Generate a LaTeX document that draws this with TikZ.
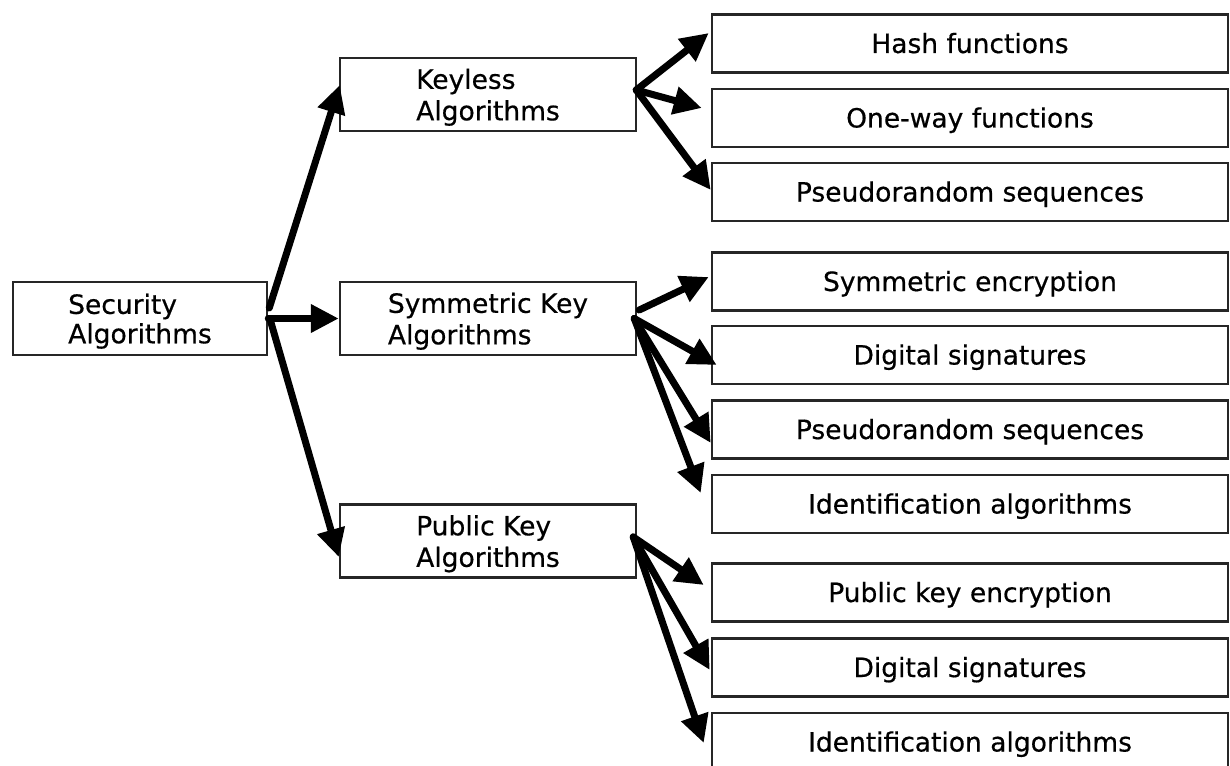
\documentclass[tikz,border=0pt]{standalone}
\usepackage{fontspec}
\setmainfont{DejaVu Sans}[FakeBold=0.5]
\usetikzlibrary{arrows.meta,calc}

\tikzset{
  box/.style={draw=black!85, line width=2.5pt, inner sep=0pt, fill=white},
  rootbox/.style={box, minimum width=254pt, minimum height=73pt,
    align=left, text depth=0pt, font=\fontsize{26.5}{29.4}\selectfont},
  midbox/.style={box, minimum width=296pt, minimum height=73pt,
    align=left, text depth=0pt, font=\fontsize{26.5}{31.5}\selectfont},
  leafbox/.style={box, minimum width=516pt, minimum height=58pt,
    text height=19pt, text depth=0pt, font=\fontsize{26.5}{31}\selectfont},
  link/.style={line width=7pt, line cap=round,
    -{Triangle[length=28pt,width=27pt]}},
}

\begin{document}
\begin{tikzpicture}[x=1pt, y=-1pt]
  \clip (0,0) rectangle (1230,765);
  \fill[white] (0,0) rectangle (1230,765);

  % root and the three families
  \node[rootbox] (sec) at (140,318.5) {Security\\Algorithms};
  \node[midbox] (key) at (488,94.5)  {Keyless\\Algorithms};
  \node[midbox] (sym) at (488,318.5) {Symmetric Key\\Algorithms};
  \node[midbox] (pub) at (488,541)   {Public Key\\Algorithms};

  % leaves
  \node[leafbox] (hash)    at (970,43.5)  {Hash functions};
  \node[leafbox] (oneway)  at (970,118)   {One-way functions};
  \node[leafbox] (prngA)   at (970,192)   {Pseudorandom sequences};
  \node[leafbox] (symenc)  at (970,281.5) {Symmetric encryption};
  \node[leafbox] (dsigA)   at (970,355)   {Digital signatures};
  \node[leafbox] (prngB)   at (970,429.5) {Pseudorandom sequences};
  \node[leafbox] (identA)  at (970,504)   {Identification algorithms};
  \node[leafbox] (pkenc)   at (970,592.5) {Public key encryption};
  \node[leafbox] (dsigB)   at (970,667.5) {Digital signatures};
  \node[leafbox] (identB)  at (970,742)   {Identification algorithms};

  % root to families
  \draw[link] ($(sec.east)+(1,-10.5)$) -- ($(key.west)+(1,-9.5)$);
  \draw[link] (sec.east) -- (sym.west);
  \draw[link] ($(sec.east)+(2,1.5)$) -- ($(pub.west)+(0,16)$);

  % keyless
  \draw[link] ($(key.east)+(-1,-4.5)$) -- ($(hash.west)+(-2,-10.5)$);
  \draw[link] ($(key.east)+(-1,-4.5)$) -- ($(oneway.west)+(-9,-10)$);
  \draw[link] ($(key.east)+(-1,-4.5)$) -- ($(prngA.west)+(0,-2)$);

  % symmetric key
  \draw[link] ($(sym.east)+(2,-8.5)$) -- ($(symenc.west)+(-2,-4.5)$);
  \draw[link] ($(sym.east)+(-3,0)$) -- ($(dsigA.west)+(6,10)$);
  \draw[link] ($(sym.east)+(-3,0)$) -- ($(prngB.west)+(0,13.5)$);
  \draw[link] ($(sym.east)+(-3,0)$) -- ($(identA.west)+(-10,-11)$);

  % public key
  \draw[link] ($(pub.east)+(-4,-4)$) -- ($(pkenc.west)+(-7,-7.5)$);
  \draw[link] ($(pub.east)+(-4,-4)$) -- ($(dsigB.west)+(-1,2.5)$);
  \draw[link] ($(pub.east)+(-4,-4)$) -- ($(identB.west)+(-7,1)$);
\end{tikzpicture}
\end{document}
